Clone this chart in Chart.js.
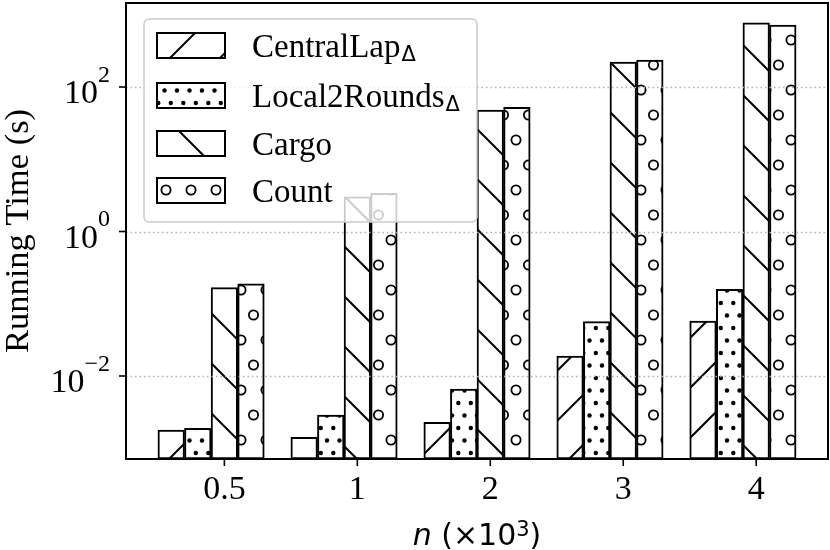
<!DOCTYPE html>
<html>
<head>
<meta charset="utf-8">
<script src="https://cdn.jsdelivr.net/npm/chart.js@4.4.0/dist/chart.umd.min.js"></script>
<style>
html, body { margin: 0; padding: 0; background: #fff; }
canvas { display: block; }
</style>
</head>
<body>
<canvas id="myChart" width="830" height="550"></canvas>
<script>
var ctx = document.getElementById("myChart");

// data (seconds)
const categories = ['0.5', '1', '2', '3', '4'];
const seriesNames = ['CentralLap', 'Local2Rounds', 'Cargo', 'Count'];
const seriesSubs = ['Δ', 'Δ', '', ''];
const centralLap = [0.00179, 0.00142, 0.00229, 0.0189, 0.0577];
const local2Rounds = [0.00189, 0.00288, 0.0066, 0.0565, 0.158];
const cargo = [0.167, 3.03, 48, 222, 776];
const count = [0.188, 3.38, 52.4, 236, 721];
const yTicks = [1e-2, 1, 1e2];
const yTickExp = ['\u22122', '0', '2'];

const SERIF = "'Liberation Serif', 'Times New Roman', serif";
const SANS = "'DejaVu Sans', sans-serif";

// hatch tiles, white background + black marks
const makePattern = (w, h, draw) => {
    const c = document.createElement('canvas');
    c.width = w;
    c.height = h;
    const g = c.getContext('2d');
    g.fillStyle = '#fff';
    g.fillRect(0, 0, w, h);
    g.strokeStyle = '#000';
    g.fillStyle = '#000';
    g.lineWidth = 2;
    draw(g, w, h);
    return ctx.getContext('2d').createPattern(c, 'repeat');
};

const wrapped = (w, h, pts, fn) => {
    pts.forEach(([px, py]) => {
        [-w, 0, w].forEach((dx) => {
            [-h, 0, h].forEach((dy) => fn(px + dx, py + dy));
        });
    });
};

const hatchNE = makePattern(50, 50, (g) => {
    [-22, 28, 78].forEach((c) => {
        g.beginPath();
        g.moveTo(-10, c + 10);
        g.lineTo(60, c - 60);
        g.stroke();
    });
});
const hatchNW = makePattern(50, 50, (g) => {
    [-48, 2, 52].forEach((c) => {
        g.beginPath();
        g.moveTo(-10, c - 10);
        g.lineTo(60, c + 60);
        g.stroke();
    });
});
const hatchDots = makePattern(25, 25, (g, w, h) => {
    wrapped(w, h, [[8.3, 3], [20.8, 3], [2, 15.5], [14.5, 15.5]], (x, y) => {
        g.beginPath();
        g.arc(x, y, 2.2, 0, Math.PI * 2);
        g.fill();
    });
});
const hatchRings = makePattern(25, 50, (g, w, h) => {
    g.lineWidth = 1.8;
    wrapped(w, h, [[16, 40], [3.5, 15]], (x, y) => {
        g.beginPath();
        g.arc(x, y, 4.6, 0, Math.PI * 2);
        g.stroke();
    });
});
const patterns = [hatchNE, hatchDots, hatchNW, hatchRings];

const toPoints = (vals) => vals.map((v, i) => ({ x: i, y: v }));
const seriesValues = [centralLap, local2Rounds, cargo, count];

const datasets = seriesValues.map((vals, i) => ({
    label: seriesNames[i],
    data: toPoints(vals),
    backgroundColor: patterns[i],
    borderColor: '#000',
    borderWidth: 2,
    borderSkipped: false
}));
// empty slot so each group sits half a bar left of its tick (as in the source plot)
datasets.push({ label: '', data: [] });

const axesPlugin = {
    id: 'axesPlugin',
    afterDatasetsDraw: (chart) => {
        const c = chart.ctx;
        const area = chart.chartArea;
        const ys = chart.scales.y;
        c.save();
        c.strokeStyle = '#b0b0b0';
        c.lineWidth = 1.5;
        c.setLineDash([1.5, 3]);
        yTicks.forEach((v) => {
            const y = Math.round(ys.getPixelForValue(v)) + 0.5;
            c.beginPath();
            c.moveTo(area.left, y);
            c.lineTo(area.right, y);
            c.stroke();
        });
        c.restore();
    },
    afterDraw: (chart) => {
        const c = chart.ctx;
        const area = chart.chartArea;
        const xs = chart.scales.x;
        const ys = chart.scales.y;
        c.save();

        // frame
        c.strokeStyle = '#000';
        c.lineWidth = 2;
        c.strokeRect(area.left, area.top, area.right - area.left, area.bottom - area.top);

        // y ticks + labels 10^k
        c.lineWidth = 1.6;
        c.fillStyle = '#000';
        c.textBaseline = 'alphabetic';
        yTicks.forEach((v, i) => {
            const y = ys.getPixelForValue(v);
            c.beginPath();
            c.moveTo(area.left - 7, y);
            c.lineTo(area.left, y);
            c.stroke();
            c.font = "24px " + SERIF;
            const ws = c.measureText(yTickExp[i]).width;
            const right = area.left - 16;
            c.textAlign = 'left';
            c.fillText(yTickExp[i], right - ws, y - 5.5);
            c.font = "34px " + SERIF;
            c.textAlign = 'right';
            c.fillText('10', right - ws, y + 16);
        });

        // x ticks + labels
        c.textAlign = 'center';
        c.font = "34px " + SERIF;
        categories.forEach((lab, i) => {
            const x = xs.getPixelForValue(i);
            c.beginPath();
            c.moveTo(x, area.bottom);
            c.lineTo(x, area.bottom + 7);
            c.stroke();
            c.fillText(lab, x, 499);
        });

        // y title
        c.save();
        c.translate(28, (area.top + area.bottom) / 2);
        c.rotate(-Math.PI / 2);
        c.textAlign = 'center';
        c.font = "34.5px " + SERIF;
        c.fillText('Running Time (s)', 0, 0);
        c.restore();

        // x title: n (×10³)
        const parts = [
            { t: 'n', f: 'italic 30px ' + SANS, dy: 0 },
            { t: ' (\u00d710', f: '30px ' + SANS, dy: 0 },
            { t: '3', f: '21px ' + SANS, dy: -9 },
            { t: ')', f: '30px ' + SANS, dy: 0 }
        ];
        let total = 0;
        parts.forEach((p) => { c.font = p.f; p.w = c.measureText(p.t).width; total += p.w; });
        let px = (area.left + area.right) / 2 - total / 2;
        c.textAlign = 'left';
        parts.forEach((p) => {
            c.font = p.f;
            c.fillText(p.t, px, 545 + p.dy);
            px += p.w;
        });

        // legend box
        const lx = 144, ly = 19, lw = 333, lh = 203, r = 5;
        c.beginPath();
        c.moveTo(lx + r, ly);
        c.arcTo(lx + lw, ly, lx + lw, ly + lh, r);
        c.arcTo(lx + lw, ly + lh, lx, ly + lh, r);
        c.arcTo(lx, ly + lh, lx, ly, r);
        c.arcTo(lx, ly, lx + lw, ly, r);
        c.closePath();
        c.fillStyle = 'rgba(255,255,255,0.8)';
        c.fill();
        c.strokeStyle = '#cccccc';
        c.lineWidth = 1.5;
        c.stroke();

        const rowTops = [33, 83, 131, 178];
        seriesNames.forEach((name, i) => {
            const top = rowTops[i];
            c.fillStyle = patterns[i];
            c.fillRect(157, top, 68, 25);
            c.strokeStyle = '#000';
            c.lineWidth = 2;
            c.strokeRect(157, top, 68, 25);
            c.fillStyle = '#000';
            c.font = "33px " + SERIF;
            c.textAlign = 'left';
            const base = top + 24;
            c.fillText(name, 252, base);
            if (seriesSubs[i]) {
                const w = c.measureText(name).width;
                c.font = "21px " + SANS;
                c.fillText(seriesSubs[i], 252 + w + 1, base + 4);
            }
        });

        c.restore();
    }
};

var myChart = new Chart(ctx, {
    type: 'bar',
    data: { datasets: datasets },
    options: {
        responsive: false,
        devicePixelRatio: 1,
        animation: false,
        layout: {
            padding: { left: 126, right: 2, top: 3, bottom: 91 }
        },
        plugins: {
            legend: { display: false },
            tooltip: { enabled: false }
        },
        datasets: {
            bar: { categoryPercentage: 1, barPercentage: 1 }
        },
        scales: {
            x: {
                type: 'linear',
                display: false,
                offset: false,
                min: -0.74,
                max: 4.54,
                afterBuildTicks: (scale) => {
                    scale.ticks = categories.map((c, i) => ({ value: i }));
                }
            },
            y: {
                type: 'logarithmic',
                display: false,
                min: 7.1e-4,
                max: 1455
            }
        }
    },
    plugins: [axesPlugin]
});
</script>
</body>
</html>
